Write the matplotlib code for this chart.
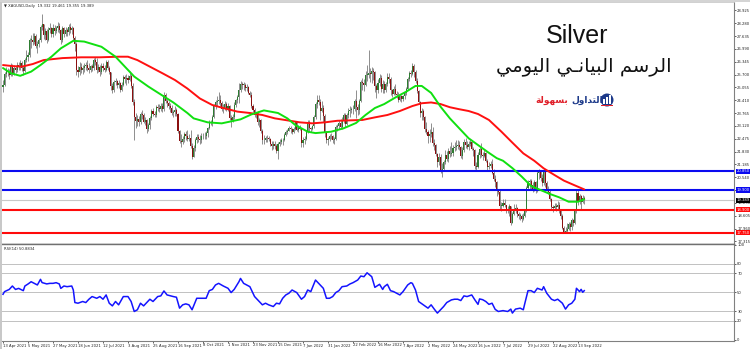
import numpy as np
import matplotlib
matplotlib.use("Agg")
import matplotlib.pyplot as plt
from matplotlib.patches import Rectangle, Ellipse
from matplotlib import font_manager

# ---------------- data ----------------
open_first = 25.10
close = [
    # Apr 2021
    25.20, 25.75, 25.90, 25.85, 25.70, 26.15, 25.80, 26.05, 25.95, 26.20, 26.10, 26.30, 26.05, 25.90,
    # May 2021
    26.45, 26.60, 26.70, 27.45, 27.45, 27.35, 27.65, 27.15, 27.25, 27.45, 28.10, 28.25, 27.70, 27.90,
    27.45, 27.95, 28.05, 27.75, 28.05, 27.90, 28.05,
    # Jun 2021
    28.15, 27.95, 27.45, 28.05, 27.75, 27.95, 27.85, 28.10, 27.95, 28.05, 27.55, 27.25, 25.95, 25.85,
    26.10, 25.95, 26.05, 26.15, 26.20, 26.05, 25.95, 26.15,
    # Jul 2021
    26.05, 26.45, 26.35, 25.95, 26.10, 25.85, 26.15, 26.05, 25.95, 26.35, 26.05, 25.85, 25.15, 24.95,
    25.35, 25.40, 25.20, 25.30, 24.95, 25.20, 25.60, 25.50,
    # Aug 2021
    25.55, 25.45, 25.65, 25.15, 24.30, 23.55, 23.35, 23.45, 23.30, 23.70, 23.65, 23.30, 23.40, 22.95,
    23.15, 23.50, 23.85, 23.70, 23.65, 24.05, 24.00, 23.95,
    # Sep 2021
    24.10, 23.95, 24.70, 24.35, 24.25, 24.10, 24.00, 23.75, 23.80, 23.90, 23.70, 22.85, 22.35, 22.30,
    22.45, 22.70, 22.60, 22.45, 22.50, 22.10, 21.55, 22.00,
    # Oct 2021
    22.40, 22.55, 22.45, 22.40, 22.60, 22.60, 22.60, 22.75, 23.00, 23.30, 23.30, 23.55, 24.15, 24.30,
    24.35, 24.40, 24.25, 23.95, 23.95, 24.20, 23.95,
    # Nov 2021
    24.10, 23.50, 23.40, 23.55, 24.15, 24.40, 24.55, 24.95, 25.25, 25.20, 25.20, 25.05, 25.10, 24.80,
    24.65, 24.10, 23.90, 23.65, 23.75, 23.30, 23.40, 22.85,
    # Dec 2021
    22.40, 22.40, 22.50, 22.50, 22.45, 22.20, 22.10, 22.20, 22.10, 21.85, 22.20, 22.30, 22.40, 22.40,
    22.65, 22.80, 22.85, 23.00, 22.95, 22.80, 22.95, 23.30,
    # Jan 2022
    22.90, 23.05, 22.95, 22.25, 22.40, 22.45, 22.80, 23.30, 23.00, 22.95, 23.10, 23.55, 24.20, 24.40,
    24.30, 23.85, 24.00, 23.60, 22.80, 22.40, 22.45,
    # Feb 2022
    22.60, 22.60, 22.40, 22.45, 23.05, 23.10, 23.25, 23.05, 23.40, 23.65, 23.20, 23.65, 23.85, 23.90,
    23.95, 23.95, 24.35, 24.05, 23.90, 24.35,
    # Mar 2022
    25.35, 25.30, 25.20, 25.70, 25.70, 25.80, 25.75, 25.90, 25.85, 25.15, 24.95, 25.30, 25.55, 25.00,
    25.25, 24.95, 25.25, 25.60, 25.50, 24.95, 24.75, 25.00, 24.75,
    # Apr 2022
    24.70, 24.40, 24.60, 24.45, 24.60, 24.80, 25.00, 25.50, 25.80, 25.75, 26.15, 25.85, 25.40, 24.90,
    24.30, 23.75, 23.85, 23.55, 22.95, 22.80,
    # May 2022
    22.60, 22.70, 22.80, 22.25, 22.15, 21.70, 21.30, 21.55, 20.90, 20.95, 21.30, 21.65, 21.45, 21.85,
    21.70, 21.75, 22.00, 22.05, 22.10, 22.15, 22.05, 21.60,
    # Jun 2022
    21.90, 22.30, 22.15, 22.05, 22.20, 22.30, 21.95, 21.90, 21.10, 21.05, 21.65, 21.95, 21.65, 21.60,
    21.75, 21.35, 21.05, 21.10, 21.20, 20.75, 20.45, 20.30,
    # Jul 2022
    19.85, 19.80, 19.10, 19.10, 19.25, 19.15, 18.95, 18.85, 19.10, 18.25, 18.70, 18.90, 19.00, 18.70,
    18.60, 18.60, 18.45, 18.60, 18.85, 20.00, 20.30,
    # Aug 2022
    20.35, 20.15, 19.90, 20.30, 19.85, 20.75, 20.80, 20.50, 20.25, 20.80, 20.25, 19.95, 19.80, 19.45,
    19.05, 19.00, 19.10, 19.05, 19.15, 18.85, 18.60, 18.00, 17.80,
    # Sep 2022
    17.85, 17.95, 18.20, 18.05, 18.40, 18.25, 18.85, 19.75, 19.30, 19.60, 19.30, 19.50, 19.39,
]
high = [
    25.45, 25.85, 26.10, 26.05, 26.00, 26.30, 26.25, 26.20, 26.20, 26.35, 26.35, 26.45, 26.40, 26.15,
    26.55, 26.95, 26.85, 27.55, 27.70, 27.80, 27.80, 27.75, 27.40, 27.55, 28.20, 28.75, 28.25, 28.05,
    28.00, 28.10, 28.30, 28.10, 28.25, 28.20, 28.15,
    28.35, 28.30, 28.00, 28.15, 28.10, 28.10, 28.05, 28.25, 28.30, 28.15, 28.10, 27.65, 27.35, 26.15,
    26.35, 26.30, 26.20, 26.30, 26.35, 26.45, 26.30, 26.20,
    26.25, 26.55, 26.60, 26.55, 26.25, 26.20, 26.30, 26.30, 26.20, 26.45, 26.45, 26.15, 25.85, 25.30,
    25.45, 25.55, 25.45, 25.45, 25.35, 25.35, 25.70, 25.70,
    25.75, 25.70, 25.90, 25.75, 25.30, 24.45, 23.75, 23.65, 23.60, 23.80, 23.90, 23.75, 23.55, 23.45,
    23.25, 23.60, 23.95, 24.00, 23.85, 24.15, 24.20, 24.20,
    24.25, 24.25, 24.85, 24.80, 24.45, 24.35, 24.25, 24.15, 23.90, 24.10, 24.00, 23.75, 22.90, 22.70,
    22.60, 22.80, 22.85, 22.90, 22.70, 22.90, 22.25, 22.15,
    22.50, 22.70, 22.70, 22.65, 22.75, 22.75, 22.80, 22.85, 23.05, 23.40, 23.40, 23.65, 24.20, 24.40,
    24.60, 24.85, 24.65, 24.35, 24.20, 24.35, 24.30,
    24.25, 24.15, 23.65, 23.70, 24.30, 24.45, 24.65, 25.30, 25.40, 25.35, 25.35, 25.30, 25.25, 25.15,
    24.90, 24.85, 24.20, 24.00, 23.80, 23.85, 23.50, 23.45,
    22.95, 22.65, 22.60, 22.65, 22.60, 22.50, 22.35, 22.35, 22.35, 22.20, 22.30, 22.45, 22.50, 22.50,
    22.75, 22.90, 22.95, 23.10, 23.10, 23.00, 23.05, 23.35,
    23.35, 23.15, 23.15, 23.00, 22.55, 22.60, 22.85, 23.40, 23.40, 23.05, 23.15, 23.65, 24.30, 24.70,
    24.65, 24.45, 24.35, 24.15, 23.70, 22.85, 22.55,
    22.70, 22.75, 22.65, 22.55, 23.15, 23.20, 23.40, 23.45, 23.55, 23.75, 23.75, 23.75, 24.00, 24.10,
    24.05, 24.15, 24.45, 24.95, 24.20, 24.45,
    25.45, 25.55, 25.50, 25.90, 26.20, 26.95, 26.05, 26.10, 26.05, 25.90, 25.25, 25.50, 25.75, 25.70,
    25.45, 25.40, 25.35, 25.80, 25.80, 25.60, 25.00, 25.15, 25.25,
    24.90, 24.85, 24.70, 24.65, 24.70, 24.85, 25.10, 25.60, 25.90, 25.95, 26.30, 26.25, 25.95, 25.55,
    24.95, 24.35, 24.00, 23.95, 23.60, 23.30,
    22.90, 22.95, 23.25, 23.05, 22.45, 22.20, 21.75, 21.75, 21.70, 21.25, 21.40, 21.90, 21.85, 22.00,
    22.10, 22.30, 22.15, 22.30, 22.40, 22.40, 22.35, 22.10,
    22.05, 22.45, 22.50, 22.35, 22.35, 22.45, 22.40, 22.05, 21.95, 21.30, 21.80, 22.05, 22.25, 21.80,
    21.95, 21.80, 21.45, 21.30, 21.35, 21.45, 20.95, 20.65,
    20.35, 19.95, 19.95, 19.30, 19.45, 19.45, 19.15, 19.10, 19.20, 19.10, 18.80, 19.20, 19.20, 19.05,
    18.80, 18.75, 18.70, 18.75, 18.95, 20.10, 20.40,
    20.45, 20.45, 20.30, 20.40, 20.35, 20.85, 20.95, 20.90, 20.70, 20.95, 20.85, 20.35, 20.10, 19.90,
    19.50, 19.15, 19.25, 19.25, 19.35, 19.30, 18.95, 18.70, 18.10,
    18.05, 18.25, 18.30, 18.30, 18.50, 18.45, 18.95, 19.90, 19.95, 19.70, 19.65, 19.65, 19.60,
]
low = [
    24.85, 25.15, 25.60, 25.65, 25.50, 25.65, 25.65, 25.70, 25.80, 25.85, 25.95, 25.95, 25.90, 25.70,
    25.85, 26.35, 26.40, 26.60, 27.05, 27.20, 27.25, 27.05, 26.80, 27.10, 27.35, 27.95, 27.50, 27.45,
    27.30, 27.40, 27.80, 27.60, 27.60, 27.70, 27.80,
    27.85, 27.80, 27.25, 27.35, 27.60, 27.65, 27.65, 27.70, 27.80, 27.75, 27.45, 26.90, 25.70, 25.60,
    25.70, 25.80, 25.75, 25.85, 25.95, 25.90, 25.80, 25.85,
    25.90, 25.95, 26.20, 25.80, 25.85, 25.65, 25.75, 25.90, 25.85, 25.90, 25.95, 25.75, 24.95, 24.80,
    24.85, 25.20, 25.05, 25.05, 24.85, 24.90, 25.15, 25.30,
    25.20, 25.30, 25.40, 25.05, 24.15, 22.40, 23.00, 23.10, 23.10, 23.20, 23.45, 23.25, 23.15, 22.75,
    22.85, 22.95, 23.40, 23.60, 23.55, 23.55, 23.85, 23.80,
    23.85, 23.80, 23.85, 24.25, 24.05, 23.95, 23.80, 23.65, 23.55, 23.60, 23.60, 22.75, 22.25, 22.05,
    22.20, 22.30, 22.40, 22.35, 22.35, 22.00, 21.45, 21.55,
    21.85, 22.25, 22.30, 22.20, 22.25, 22.45, 22.45, 22.45, 22.55, 22.95, 23.15, 23.10, 23.50, 23.95,
    24.10, 24.20, 24.10, 23.85, 23.75, 23.90, 23.85,
    23.85, 23.40, 23.05, 23.30, 23.45, 24.05, 24.25, 24.25, 24.85, 25.00, 24.95, 24.90, 24.90, 24.75,
    24.55, 24.00, 23.80, 23.55, 23.50, 23.15, 23.05, 22.75,
    22.20, 22.20, 22.30, 22.30, 22.35, 22.10, 21.90, 21.95, 21.95, 21.75, 21.45, 22.10, 22.20, 22.15,
    22.35, 22.60, 22.70, 22.85, 22.75, 22.70, 22.75, 22.90,
    22.85, 22.80, 22.90, 22.05, 22.05, 22.20, 22.40, 22.75, 22.80, 22.80, 22.90, 23.00, 23.45, 24.00,
    24.15, 23.40, 23.80, 23.30, 22.55, 22.25, 22.15,
    22.35, 22.45, 22.25, 22.20, 22.40, 22.85, 22.95, 22.95, 22.95, 23.25, 23.05, 23.15, 23.50, 23.55,
    23.75, 23.70, 23.85, 23.50, 23.65, 23.70,
    24.30, 24.95, 24.90, 25.15, 25.40, 25.55, 25.35, 25.30, 25.45, 24.85, 24.50, 24.80, 25.15, 24.85,
    24.80, 24.80, 24.85, 25.15, 25.30, 24.70, 24.55, 24.70, 24.70,
    24.50, 24.30, 24.35, 24.30, 24.35, 24.45, 24.70, 24.95, 25.40, 25.60, 25.70, 25.60, 25.30, 24.80,
    24.25, 23.55, 23.40, 23.40, 22.80, 22.70,
    22.25, 22.30, 22.55, 22.10, 21.90, 21.60, 21.05, 21.15, 20.75, 20.55, 20.90, 21.20, 21.35, 21.30,
    21.55, 21.60, 21.60, 21.85, 21.90, 21.95, 21.90, 21.50,
    21.45, 21.80, 22.00, 21.95, 21.90, 22.10, 21.90, 21.60, 20.95, 20.90, 21.00, 21.50, 21.55, 21.40,
    21.55, 21.30, 20.90, 20.95, 21.00, 20.70, 20.35, 20.05,
    19.60, 19.70, 18.95, 18.85, 19.05, 19.05, 18.75, 18.75, 18.60, 18.15, 18.25, 18.65, 18.75, 18.55,
    18.45, 18.40, 18.30, 18.40, 18.55, 18.80, 19.90,
    19.90, 19.90, 19.80, 19.85, 19.75, 19.80, 20.45, 20.35, 20.10, 20.15, 20.05, 19.85, 19.70, 19.35,
    18.95, 18.80, 18.90, 18.85, 18.95, 18.75, 18.45, 17.95, 17.75,
    17.72, 17.80, 17.90, 17.85, 17.90, 18.10, 18.20, 18.75, 19.15, 19.20, 18.95, 19.25, 19.20,
]

# moving averages (bar index, value)
ma_fast_bars = [0, 5, 11, 18, 24, 31, 37, 45, 52, 63, 72, 84, 93, 101, 109, 118, 122, 131, 140, 152,
                159, 167, 176, 182, 187, 195, 200, 210, 218, 226, 232, 238, 244, 252, 258, 264, 268,
                274, 280, 286, 292, 298, 304, 310, 316, 320, 326, 332, 338, 344, 350, 356, 362, 368, 372]
ma_fast = [26.03, 25.77, 25.64, 25.85, 26.18, 26.60, 27.02, 27.40, 27.36, 27.10, 26.60, 25.60, 25.10,
           24.70, 24.30, 23.77, 23.50, 23.30, 23.25, 23.45, 23.70, 23.90, 23.77, 23.50, 23.17, 22.83,
           22.76, 22.83, 23.00, 23.27, 23.67, 24.02, 24.22, 24.59, 24.84, 25.13, 25.13, 24.78, 24.09,
           23.50, 23.00, 22.50, 22.16, 21.82, 21.50, 21.37, 21.00, 20.57, 20.10, 19.90, 19.70, 19.53,
           19.31, 19.31, 19.43]
ma_slow_bars = [0, 6, 12, 19, 26, 38, 50, 62, 74, 80, 86, 94, 102, 110, 118, 126, 134, 142, 150, 158,
                166, 174, 182, 190, 198, 206, 214, 222, 230, 238, 246, 254, 262, 268, 274, 280, 286,
                292, 298, 304, 311, 319, 326, 333, 340, 346, 353, 359, 366, 372]
ma_slow = [26.18, 26.13, 26.10, 26.23, 26.43, 26.53, 26.57, 26.57, 26.60, 26.60, 26.43, 26.10, 25.77,
           25.43, 25.00, 24.50, 24.17, 24.00, 23.84, 23.77, 23.67, 23.50, 23.40, 23.30, 23.25, 23.30,
           23.38, 23.40, 23.42, 23.55, 23.67, 23.87, 24.12, 24.26, 24.30, 24.22, 24.06, 23.96, 23.87,
           23.72, 23.42, 22.83, 22.28, 21.74, 21.37, 20.99, 20.65, 20.37, 20.13, 19.93]

# RSI(14) (bar index, value)
rsi_bars = [0, 1, 4, 6, 8, 10, 13, 14, 16, 18, 20, 22, 24, 25, 28, 30, 32, 34, 36, 37, 39, 41, 44, 45,
            46, 48, 51, 53, 55, 57, 60, 62, 64, 66, 68, 70, 72, 74, 77, 80, 82, 84, 86, 88, 90, 94, 96,
            99, 101, 103, 105, 109, 111, 113, 115, 117, 119, 121, 124, 127, 130, 132, 134, 136, 138,
            141, 144, 146, 148, 151, 152, 154, 158, 161, 163, 166, 168, 170, 173, 175, 177, 179, 181,
            183, 185, 188, 191, 193, 195, 197, 200, 202, 205, 207, 209, 211, 213, 215, 217, 220, 222,
            224, 227, 229, 231, 233, 236, 238, 241, 243, 244, 246, 248, 250, 254, 256, 259, 261, 262,
            264, 266, 269, 272, 274, 276, 278, 280, 282, 284, 287, 289, 291, 293, 295, 297, 300, 302,
            304, 305, 307, 309, 311, 313, 315, 317, 320, 323, 325, 326, 328, 331, 333, 334, 336, 338,
            340, 342, 345, 346, 348, 351, 353, 355, 358, 360, 362, 364, 366, 367, 369, 370, 371, 372]
rsi_vals = [47.9, 50.7, 53.0, 56.6, 53.0, 54.1, 51.7, 56.6, 58.7, 61.1, 59.4, 57.7, 63.6, 60.2, 58.8,
            59.4, 59.4, 60.1, 58.8, 54.1, 56.6, 55.9, 56.6, 52.4, 39.2, 38.5, 40.3, 39.2, 42.7, 45.5,
            43.7, 45.5, 42.7, 47.2, 38.5, 35.7, 40.3, 36.8, 45.5, 45.5, 40.3, 29.8, 31.6, 38.5, 35.7,
            42.7, 40.3, 45.5, 46.2, 51.4, 47.2, 45.5, 44.8, 33.3, 36.8, 37.8, 36.8, 31.6, 43.7, 43.7,
            43.7, 51.7, 53.0, 57.7, 59.4, 56.6, 54.2, 49.7, 53.1, 61.1, 64.6, 59.4, 55.9, 45.5, 42.0,
            36.8, 38.5, 36.8, 35.0, 38.5, 37.8, 43.7, 47.2, 49.0, 52.4, 49.7, 42.7, 45.5, 52.4, 50.7,
            62.9, 59.4, 54.2, 43.7, 43.7, 45.5, 49.7, 51.7, 55.9, 56.6, 58.7, 60.1, 62.9, 67.1, 66.4,
            70.5, 66.4, 55.2, 58.4, 53.0, 55.9, 58.4, 51.7, 50.7, 47.2, 50.7, 57.7, 60.1, 59.4, 52.4,
            40.3, 36.8, 33.3, 36.8, 32.3, 28.1, 31.6, 35.0, 39.2, 42.0, 42.7, 42.7, 41.3, 46.2, 45.5,
            47.2, 42.0, 37.3, 43.0, 42.2, 40.3, 37.3, 38.5, 32.0, 29.8, 30.7, 29.8, 32.3, 28.1, 32.3,
            33.3, 31.6, 38.5, 51.7, 51.7, 49.7, 54.2, 52.4, 55.9, 49.0, 42.7, 41.3, 42.7, 38.5, 32.3,
            36.8, 38.5, 42.7, 54.2, 50.7, 53.1, 50.0, 51.7]

levels_blue = [20.850, 19.900]
levels_red = [18.900, 17.750]
last_price = 19.389
price_ticks = [17.315 + 0.645 * k for k in range(19)]
rsi_levels = [80, 70, 50, 30, 20]
rsi_ticks = [0, 20, 30, 50, 70, 80, 100]
date_labels = ["13 Apr 2021", "5 May 2021", "27 May 2021", "18 Jun 2021", "12 Jul 2021", "3 Aug 2021",
               "25 Aug 2021", "16 Sep 2021", "8 Oct 2021", "1 Nov 2021", "23 Nov 2021", "15 Dec 2021",
               "7 Jan 2022", "31 Jan 2022", "22 Feb 2022", "16 Mar 2022", "7 Apr 2022", "2 May 2022",
               "24 May 2022", "16 Jun 2022", "7 Jul 2022", "29 Jul 2022", "22 Aug 2022", "13 Sep 2022"]
date_step = 16

title_en = "Silver"
# "الرسم البياني اليومي" written with Arabic presentation forms in visual order
title_ar = ("\uFEF2\uFEE3\uFEEE\uFEF4\uFEDF\uFE8D \uFEF2\u0640\uFEE7\uFE8E\uFEF4\uFE92\uFEDF\uFE8D "
            "\uFEE2\uFEB3\uFEAE\uFEDF\uFE8D")
logo_red = "\uFE94\uFEDF\uFEEE\uFEEC\uFEB4\uFE91"          # بسهولة
logo_blue = "\uFEDD\uFEED\uFE8D\uFEAA\uFE98\uFEDF\uFE8D"    # التداول
header = "\u25BC XAGUSD,Daily  19.332 19.461 19.355 19.389"
rsi_header = "RSI(14) 50.8834"

# ---------------- figure ----------------
names = {f.name for f in font_manager.fontManager.ttflist}
SMALL = ["Liberation Sans Narrow", "DejaVu Sans"] if "Liberation Sans Narrow" in names \
    else ["DejaVu Sans"]
small_size = 3.3 if SMALL[0] == "Liberation Sans Narrow" else 2.7

W, H = 750, 349
fig = plt.figure(figsize=(7.5, 3.49), dpi=100)
fig.patch.set_facecolor("white")


def fx(px):
    return px / W


def fy(py):
    return 1 - py / H


X0, X1 = 2, 734
ax = fig.add_axes([fx(X0), fy(243.5), fx(X1) - fx(X0), fy(2) - fy(243.5)])
axr = fig.add_axes([fx(X0), fy(341), fx(X1) - fx(X0), fy(244) - fy(341)])

bar_px = 1.5625
bar0_px = 3.0
xlim = ((X0 - bar0_px) / bar_px, (X1 - bar0_px) / bar_px)

n = min(len(close), len(high), len(low))
c = np.array(close[:n])
o = np.concatenate([[open_first], c[:-1]])
h = np.maximum(np.array(high[:n]), np.maximum(o, c))
l = np.minimum(np.array(low[:n]), np.minimum(o, c))
idx = np.arange(n)
up = c >= o

ax.vlines(idx, l, h, color="#8e8e8e", lw=0.7, zorder=2)
body = np.maximum(np.abs(c - o), 0.03)
ax.bar(idx[up], body[up], bottom=o[up], width=0.7, color="#2e7d32", lw=0, zorder=3)
ax.bar(idx[~up], body[~up], bottom=c[~up], width=0.7, color="#8b1010", lw=0, zorder=3)

ax.axhline(last_price, color="#c8c8c8", lw=0.8, zorder=1)
for v in levels_blue:
    ax.axhline(v, color="#0a0af0", lw=1.5, zorder=4)
for v in levels_red:
    ax.axhline(v, color="#ff0a0a", lw=1.5, zorder=4)

ax.plot(ma_slow_bars, ma_slow, color="#ff1010", lw=1.4, zorder=5, solid_capstyle="round")
ax.plot(ma_fast_bars, ma_fast, color="#10e010", lw=1.4, zorder=5, solid_capstyle="round")

ax.set_xlim(*xlim)
ax.set_ylim(17.21, 29.35)
ax.set_xticks([])
ax.yaxis.tick_right()
ax.set_yticks(price_ticks)
ax.set_yticklabels([f"{t:.3f}" for t in price_ticks], family=SMALL, fontsize=small_size)
ax.tick_params(axis="y", length=1.5, width=0.5, pad=0.8, colors="#222222")
ax.spines["left"].set_visible(False)
ax.spines["top"].set_color("#c8c8c8")
ax.spines["top"].set_linewidth(1.2)
ax.spines["right"].set_color("#808080")
ax.spines["right"].set_linewidth(0.8)
ax.spines["bottom"].set_color("#707070")
ax.spines["bottom"].set_linewidth(1.0)

ytr = ax.get_yaxis_transform()


def level_label(v, col):
    ax.text(1.0035, v, f"{v:.3f}", transform=ytr, fontsize=small_size, family=SMALL, color="white",
            va="center", ha="left", clip_on=False, zorder=10,
            bbox=dict(boxstyle="square,pad=0.15", fc=col, ec="none"))


for v in levels_blue:
    level_label(v, "#0a0af0")
for v in levels_red:
    level_label(v, "#ff0a0a")
level_label(last_price, "#000000")

# RSI panel
axr.plot(rsi_bars[:len(rsi_vals)], rsi_vals[:len(rsi_bars)], color="#1414ff", lw=1.1, zorder=3)
for lv in rsi_levels:
    axr.axhline(lv, color="#6e6e6e", lw=0.6, ls=(0, (1.2, 1.2)), zorder=1)
axr.set_xlim(*xlim)
axr.set_ylim(-1.26, 100.8)
axr.yaxis.tick_right()
axr.set_yticks(rsi_ticks)
axr.set_yticklabels([str(t) for t in rsi_ticks], family=SMALL, fontsize=small_size)
axr.tick_params(axis="y", length=1.5, width=0.5, pad=0.8, colors="#222222")
dpos = [i * date_step for i in range(len(date_labels))]
axr.set_xticks(dpos)
axr.set_xticklabels(date_labels, family=SMALL, fontsize=small_size)
axr.tick_params(axis="x", length=1.2, width=0.5, pad=0.6, colors="#222222")
for t in axr.get_xticklabels():
    t.set_ha("left")
axr.spines["left"].set_visible(False)
axr.spines["top"].set_color("#707070")
axr.spines["top"].set_linewidth(1.0)
axr.spines["right"].set_color("#808080")
axr.spines["right"].set_linewidth(0.8)
axr.spines["bottom"].set_color("#808080")
axr.spines["bottom"].set_linewidth(0.8)

# window frame strips
fig.add_artist(Rectangle((0, 0), fx(2), 1, transform=fig.transFigure, fc="#c8c8c8", ec="none"))
fig.add_artist(Rectangle((0, fy(1.5)), 1, 1 - fy(1.5), transform=fig.transFigure, fc="#d4d4d4",
                         ec="none"))

# texts
fig.text(fx(4), fy(5.5), header, fontsize=small_size, color="#222222", va="center", ha="left",
         family=SMALL + ["DejaVu Sans"])
fig.text(fx(4), fy(248.5), rsi_header, fontsize=small_size, color="#222222", va="center",
         ha="left", family=SMALL)
fig.text(fx(577), fy(36), title_en, fontsize=18, family="Liberation Sans", ha="center", va="center",
         color="#111111")
fig.text(fx(584), fy(67), title_ar, fontsize=14, family="DejaVu Sans", ha="center", va="center",
         color="#111111")

# logo
fig.text(fx(568), fy(100), logo_red, fontsize=6.5, family="DejaVu Sans", weight="bold",
         color="#e0202a", ha="right", va="center")
fig.text(fx(571), fy(100), logo_blue, fontsize=6.5, family="DejaVu Sans", weight="bold",
         color="#1d3a8a", ha="left", va="center")
fig.add_artist(Ellipse((fx(607), fy(100)), 13 / W, 13 / H, transform=fig.transFigure,
                       fc="#1d3a8a", ec="none"))
for k, hh in enumerate([5, 7, 9]):
    fig.add_artist(Rectangle((fx(603 + 3 * k), fy(104)), 1.8 / W, hh / H,
                             transform=fig.transFigure, fc="white", ec="none"))
fig.add_artist(Rectangle((fx(601), fy(106)), 12 / W, 1.3 / H, transform=fig.transFigure,
                         fc="#e0202a", ec="none"))

fig.savefig("out.png", dpi=100)
